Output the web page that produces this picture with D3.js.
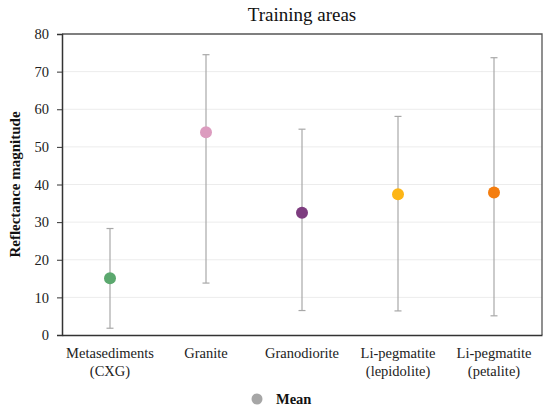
<!DOCTYPE html>
<html><head><meta charset="utf-8">
<script src="https://cdn.jsdelivr.net/npm/d3@7"></script>
<style>body{margin:0;background:#fff;} svg{display:block;}</style>
</head><body>
<svg id="c" width="550" height="411"></svg>
<script>
const categories = [["Metasediments","(CXG)"],["Granite"],["Granodiorite"],["Li-pegmatite","(lepidolite)"],["Li-pegmatite","(petalite)"]];
const means = [15.1, 53.9, 32.5, 37.4, 37.9];
const maxVals = [28.3, 74.5, 54.7, 58.1, 73.7];
const minVals = [1.8, 13.8, 6.5, 6.4, 5.1];
const colors = ["#5ba86e","#dc9cbf","#7d3c7f","#fdb515","#f47d0e"];
const yTicks = [0,10,20,30,40,50,60,70,80];
const title = "Training areas";
const yLabel = "Reflectance magnitude";
const legendLabel = "Mean";

const svg = d3.select("#c");
const font = "'Liberation Serif', serif";
const fs = 14.5;
const m = {l:62, r:542, t:34, b:335};
const x = d3.scaleBand().domain(d3.range(categories.length)).range([m.l, m.r]);
const y = d3.scaleLinear().domain([0,80]).range([m.b, m.t]);

// gridlines
svg.append("g").selectAll("line").data(yTicks.filter(d=>d>0&&d<80)).join("line")
  .attr("x1", m.l).attr("x2", m.r).attr("y1", d=>y(d)).attr("y2", d=>y(d))
  .attr("stroke", "#ececec").attr("stroke-width", 1);

// border top/right
svg.append("path").attr("d", `M${m.l},${m.t}H${m.r}V${m.b}`).attr("fill","none").attr("stroke","#555").attr("stroke-width",1.3);

// y axis
const ya = svg.append("g").attr("transform", `translate(${m.l},0)`)
  .call(d3.axisLeft(y).tickValues(yTicks).tickSize(5).tickPadding(8));
ya.select(".domain").attr("stroke","#333").attr("stroke-width",1.5);
ya.selectAll(".tick line").attr("stroke","#333");
ya.selectAll("text").attr("font-family", font).attr("font-size", fs).attr("fill","#222");

// x axis
const xa = svg.append("g").attr("transform", `translate(0,${m.b})`)
  .call(d3.axisBottom(x).tickSize(0).tickFormat(""));
xa.select(".domain").attr("stroke","#333").attr("stroke-width",1.5);
xa.selectAll(".tick").each(function(d){
  const t = d3.select(this).append("text").attr("fill","#222").attr("font-family", font).attr("font-size", fs).attr("text-anchor","middle");
  categories[d].forEach((s,i)=>t.append("tspan").attr("x",0).attr("y", 23 + i*18).text(s));
});

// error bars
const g = svg.append("g");
const cx = i => x(i) + x.bandwidth()/2;
g.selectAll("line.eb").data(means).join("line").attr("class","eb")
  .attr("x1",(d,i)=>cx(i)).attr("x2",(d,i)=>cx(i))
  .attr("y1",(d,i)=>y(minVals[i])).attr("y2",(d,i)=>y(maxVals[i]))
  .attr("stroke","#a8a8a8").attr("stroke-width",1.2);
[minVals, maxVals].forEach(arr=>{
  g.selectAll(null).data(arr).join("line")
    .attr("x1",(d,i)=>cx(i)-3.5).attr("x2",(d,i)=>cx(i)+3.5)
    .attr("y1",d=>y(d)).attr("y2",d=>y(d))
    .attr("stroke","#a8a8a8").attr("stroke-width",1.2);
});
g.selectAll("circle").data(means).join("circle")
  .attr("cx",(d,i)=>cx(i)).attr("cy",d=>y(d)).attr("r",6)
  .attr("fill",(d,i)=>colors[i]);

// title
svg.append("text").attr("x", (m.l+m.r)/2).attr("y", 21).attr("text-anchor","middle")
  .attr("font-family", font).attr("font-size", 19).attr("fill","#111").text(title);

// y label
svg.append("text").attr("transform", `translate(20,${(m.t+m.b)/2}) rotate(-90)`)
  .attr("text-anchor","middle").attr("font-family", font).attr("font-weight","bold")
  .attr("font-size", 15).attr("fill","#111").text(yLabel);

// legend
svg.append("circle").attr("cx", 257).attr("cy", 399).attr("r", 5.5).attr("fill","#a6a6a6");
svg.append("text").attr("x", 276).attr("y", 404).attr("font-family", font).attr("font-weight","bold")
  .attr("font-size", fs).attr("fill","#111").text(legendLabel);
</script>
</body></html>
